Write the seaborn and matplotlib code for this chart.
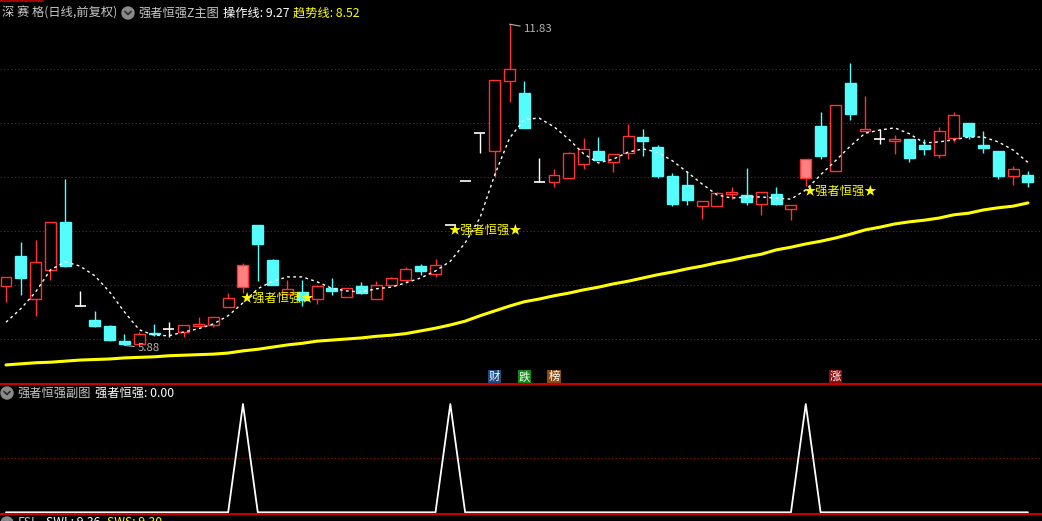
import numpy as np
import pandas as pd
import matplotlib
matplotlib.use("Agg")
import matplotlib.pyplot as plt
import seaborn as sns
from matplotlib.lines import Line2D
from matplotlib.patches import Ellipse

# ---------------- data ----------------
opens = [6.98, 7.54, 6.74, 7.28, 8.17, 6.61, 6.35, 6.24, 5.96, 5.91,
         6.12, 6.19, 6.13, 6.24, 6.26, 6.59, 6.96, 8.11, 7.46, 6.83,
         6.87, 6.74, 6.94, 6.78, 6.98, 6.74, 7.00, 7.09, 7.35, 7.20,
         8.11, 8.93, 9.81, 9.48, 10.78, 10.56, 8.91, 8.91, 8.98, 9.24,
         9.48, 9.28, 9.44, 9.74, 9.56, 9.02, 8.85, 8.46, 8.46, 8.69,
         8.67, 8.50, 8.69, 8.41, 8.98, 9.94, 9.11, 10.74, 9.85, 9.70,
         9.67, 9.70, 9.59, 9.41, 9.72, 10.00, 9.59, 9.48, 9.02, 9.04]
highs = [7.15, 7.80, 7.83, 8.17, 8.96, 6.89, 6.52, 6.26, 6.09, 6.13,
         6.28, 6.31, 6.26, 6.41, 6.41, 6.85, 7.41, 8.11, 7.48, 7.09,
         7.09, 6.98, 7.13, 6.94, 7.06, 7.07, 7.15, 7.33, 7.39, 7.48,
         8.11, 8.93, 9.81, 10.80, 11.83, 10.78, 9.35, 9.15, 9.46, 9.72,
         9.74, 9.43, 9.98, 9.89, 9.59, 9.07, 9.11, 8.56, 8.72, 8.81,
         9.17, 8.72, 8.81, 8.48, 9.33, 10.20, 10.33, 11.11, 10.50, 9.89,
         9.78, 9.70, 9.70, 9.93, 10.20, 10.00, 9.85, 9.48, 9.20, 9.11]
lows = [6.69, 6.81, 6.43, 7.09, 7.33, 6.61, 6.22, 5.96, 5.88, 5.91,
        6.06, 6.04, 6.04, 6.24, 6.22, 6.59, 6.85, 7.07, 7.00, 6.83,
        6.61, 6.65, 6.81, 6.78, 6.83, 6.74, 6.98, 7.06, 7.19, 7.15,
        8.11, 8.93, 9.44, 9.00, 10.39, 9.91, 8.91, 8.81, 8.98, 9.15,
        9.31, 9.09, 9.33, 9.39, 8.98, 8.46, 8.48, 8.22, 8.46, 8.59,
        8.48, 8.30, 8.48, 8.20, 8.83, 9.33, 9.11, 10.06, 9.85, 9.61,
        9.43, 9.28, 9.41, 9.35, 9.65, 9.70, 9.44, 8.96, 8.85, 8.81]
closes = [7.15, 7.13, 7.43, 8.17, 7.35, 6.61, 6.24, 5.98, 5.91, 6.09,
          6.10, 6.19, 6.26, 6.28, 6.41, 6.76, 7.37, 7.76, 7.00, 6.93,
          6.72, 6.98, 6.89, 6.94, 6.85, 7.00, 7.13, 7.30, 7.26, 7.37,
          8.11, 8.93, 9.81, 10.80, 11.00, 9.91, 8.91, 9.04, 9.44, 9.52,
          9.31, 9.43, 9.76, 9.67, 9.02, 8.50, 8.57, 8.56, 8.70, 8.72,
          8.54, 8.72, 8.50, 8.48, 9.33, 9.39, 10.33, 10.17, 9.89, 9.70,
          9.70, 9.35, 9.52, 9.85, 10.15, 9.76, 9.54, 9.02, 9.15, 8.91]
# 操作线 (white dashed)
op_line = [6.31, 6.56, 6.87, 7.28, 7.43, 7.35, 7.17, 6.87, 6.50, 6.17,
           6.07, 6.06, 6.13, 6.19, 6.28, 6.43, 6.67, 6.93, 7.07, 7.15,
           7.15, 7.06, 6.94, 6.89, 6.87, 6.93, 6.96, 7.04, 7.13, 7.26,
           7.44, 7.78, 8.24, 9.04, 9.72, 10.07, 10.09, 9.93, 9.70, 9.43,
           9.26, 9.33, 9.46, 9.52, 9.46, 9.30, 9.09, 8.87, 8.67, 8.61,
           8.63, 8.63, 8.61, 8.59, 8.76, 9.04, 9.30, 9.57, 9.81, 9.87,
           9.91, 9.80, 9.63, 9.65, 9.69, 9.74, 9.74, 9.65, 9.50, 9.27]
# 趋势线 (yellow)
trend_line = [5.52, 5.54, 5.56, 5.57, 5.59, 5.61, 5.62, 5.63, 5.65, 5.66,
              5.67, 5.69, 5.70, 5.71, 5.72, 5.74, 5.78, 5.81, 5.85, 5.89,
              5.92, 5.96, 5.98, 6.00, 6.02, 6.05, 6.07, 6.10, 6.15, 6.20,
              6.26, 6.33, 6.43, 6.52, 6.61, 6.69, 6.74, 6.80, 6.85, 6.91,
              6.96, 7.02, 7.07, 7.13, 7.19, 7.24, 7.30, 7.35, 7.41, 7.46,
              7.52, 7.57, 7.65, 7.70, 7.76, 7.81, 7.87, 7.94, 8.02, 8.07,
              8.13, 8.17, 8.20, 8.24, 8.30, 8.33, 8.39, 8.43, 8.46, 8.52]
# 强者恒强 sub-indicator
signal = [0, 0, 0, 0, 0, 0, 0, 0, 0, 0,
          0, 0, 0, 0, 0, 0, 1, 0, 0, 0,
          0, 0, 0, 0, 0, 0, 0, 0, 0, 0,
          1, 0, 0, 0, 0, 0, 0, 0, 0, 0,
          0, 0, 0, 0, 0, 0, 0, 0, 0, 0,
          0, 0, 0, 0, 1, 0, 0, 0, 0, 0,
          0, 0, 0, 0, 0, 0, 0, 0, 0, 0]
signal_days = [16, 30, 54]
grid_levels = [6, 7, 8, 9, 10, 11]
badges = [("财", 33, "#1c4c86"), ("跌", 35, "#0e8a12"), ("榜", 37, "#8a4c12"), ("涨", 56, "#8a0c0c")]

# ---------------- style ----------------
W, H = 1042, 521
sns.set_theme(style="dark", rc={"axes.facecolor": "black", "figure.facecolor": "black"})
plt.rcParams["font.family"] = ["Noto Sans CJK SC", "DejaVu Sans"]

RED = "#ff3232"
CYAN = "#54fcfc"
PINK = "#ff8080"
GRID = "#a01010"
GREY = "#c8c8c8"
YEL = "#ffff00"
FS = 8.8

fig = plt.figure(figsize=(W / 100, H / 100), dpi=100)
ax = fig.add_axes([0, 1 - 384 / H, 1, 384 / H])
ax2 = fig.add_axes([0, 1 - 514 / H, 1, 130 / H])

def fx(x):
    return x / W

def fy(y):
    return 1 - y / H

for a in (ax, ax2):
    a.set_facecolor("black")
    a.set_xticks([])
    a.set_yticks([])
    for s in a.spines.values():
        s.set_visible(False)
    a.grid(False)
    a.set_xlim(-0.405, 69.95)

ax.set_ylim(5.1667, 12.2778)
ax2.set_ylim(-0.0157, 1.185)

for g in grid_levels:
    ax.axhline(g, color=GRID, lw=0.8, ls=(0, (1, 2.2)), zorder=0)
ax2.axhline(0.5, color=GRID, lw=0.8, ls=(0, (1, 2.2)), zorder=0)

df = pd.DataFrame({"idx": np.arange(len(closes)), "open": opens, "high": highs,
                   "low": lows, "close": closes, "op": op_line,
                   "trend": trend_line, "sig": signal})

# ---------------- candles ----------------
bw = 0.74
for i, r in df.iterrows():
    o, h, l, c = r["open"], r["high"], r["low"], r["close"]
    if c > o:
        col = RED
        fc = PINK if i in signal_days else "black"
    elif c < o:
        col = CYAN
        fc = CYAN
    else:
        col = "white"
        fc = None
    if h > l:
        ax.vlines(i, l, h, color=col, lw=1.0, zorder=2)
    if fc is None:
        ax.hlines(o, i - bw / 2, i + bw / 2, color=col, lw=1.2, zorder=3)
    else:
        ax.bar(i, abs(c - o), bottom=min(o, c), width=bw, color=fc,
               edgecolor=col, linewidth=1.0, zorder=3)

# ---------------- lines ----------------
sns.lineplot(data=df, x="idx", y="trend", ax=ax, color=YEL, lw=2.2, zorder=4)
sns.lineplot(data=df, x="idx", y="op", ax=ax, color="white", lw=1.0,
             linestyle=(0, (2, 2.4)), zorder=5)
sns.lineplot(data=df, x="idx", y="sig", ax=ax2, color="white", lw=1.3)
ax.set_xlabel("")
ax.set_ylabel("")
ax2.set_xlabel("")
ax2.set_ylabel("")
ax.set_xlim(-0.405, 69.95)
ax2.set_xlim(-0.405, 69.95)

# signal labels
for d in signal_days:
    ax.annotate("★强者恒强★", xy=(d, lows[d]), xytext=(-2, -5),
                textcoords="offset pixels", color=YEL, fontsize=FS,
                va="center", ha="left", zorder=6)

# high / low markers
imax = int(np.argmax(highs))
imin = int(np.argmin(lows))
ax.annotate(f"{highs[imax]:.2f}", xy=(imax, highs[imax]), xytext=(14, -5),
            textcoords="offset pixels", color="#b4b4b4", fontsize=8.2,
            va="center", ha="left",
            arrowprops=dict(arrowstyle="-", color="#b4b4b4", lw=0.8,
                            shrinkA=0, shrinkB=0))
ax.annotate(f"{lows[imin]:.2f}", xy=(imin, lows[imin]), xytext=(13, -2.5),
            textcoords="offset pixels", color="#b4b4b4", fontsize=8.2,
            va="center", ha="left",
            arrowprops=dict(arrowstyle="-", color="#b4b4b4", lw=0.8,
                            shrinkA=0, shrinkB=0))

# badges
for ch, i, bg in badges:
    ax.text(i, 0.0195, ch, transform=ax.get_xaxis_transform(), color="white",
            fontsize=8.2, ha="center", va="center",
            bbox=dict(boxstyle="square,pad=0.08", fc=bg, ec="none"), zorder=7)

# ---------------- frame lines ----------------
for yy in (384.3, 514.3):
    fig.add_artist(Line2D([0, 1], [fy(yy), fy(yy)], color="#c80000", lw=1.5,
                          transform=fig.transFigure))
fig.add_artist(Line2D([0, fx(43)], [fy(0.6), fy(0.6)], color="#c80000", lw=1.2,
                      transform=fig.transFigure))

def icon(x, y):
    fig.add_artist(Ellipse((fx(x), fy(y)), 12 / W, 12 / H, color="#8a8a8a",
                           transform=fig.transFigure))
    fig.add_artist(Line2D([fx(x - 3), fx(x), fx(x + 3)], [fy(y - 1.5), fy(y + 1.5), fy(y - 1.5)],
                          color="#2a2a2a", lw=1.2, transform=fig.transFigure))

# ---------------- header texts ----------------
fig.text(fx(2), fy(13), "深 赛 格(日线,前复权)", color=GREY, fontsize=FS, va="center")
icon(128, 13)
fig.text(fx(138), fy(13), "强者恒强Z主图", color=GREY, fontsize=FS, va="center")
fig.text(fx(223), fy(13), f"操作线: {op_line[-1]:.2f}", color="white", fontsize=FS, va="center")
fig.text(fx(293), fy(13), f"趋势线: {trend_line[-1]:.2f}", color=YEL, fontsize=FS, va="center")

icon(7, 393)
fig.text(fx(17), fy(393), "强者恒强副图", color=GREY, fontsize=FS, va="center")
fig.text(fx(95), fy(393), f"强者恒强: {signal[-1]:.2f}", color="white", fontsize=FS, va="center")

icon(7, 523)
fig.text(fx(18), fy(523), "FSL", color=GREY, fontsize=FS, va="center")
fig.text(fx(46), fy(523), "SWL: 9.36", color="white", fontsize=FS, va="center")
fig.text(fx(107), fy(523), "SWS: 9.30", color=YEL, fontsize=FS, va="center")

fig.savefig("out.png", dpi=100, facecolor="black")
